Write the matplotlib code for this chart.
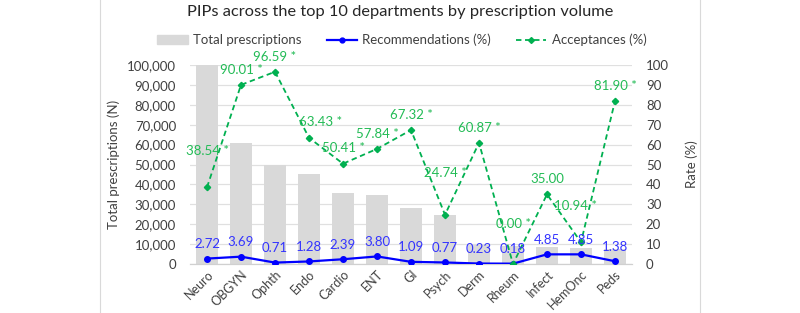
import matplotlib
matplotlib.use("Agg")
import matplotlib.pyplot as plt
from matplotlib.lines import Line2D
from matplotlib.ticker import FuncFormatter, MultipleLocator

departments = ["Neuro", "OBGYN", "Ophth", "Endo", "Cardio", "ENT", "GI",
               "Psych", "Derm", "Rheum", "Infect", "HemOnc", "Peds"]
total_prescriptions = [100000, 61000, 50000, 45000, 35500, 34500, 28000,
                       24500, 9300, 9000, 8600, 8100, 7400]
recommendations = [2.72, 3.69, 0.71, 1.28, 2.39, 3.80, 1.09,
                   0.77, 0.23, 0.18, 4.85, 4.85, 1.38]
acceptances = [38.54, 90.01, 96.59, 63.43, 50.41, 57.84, 67.32,
               24.74, 60.87, 0.00, 35.00, 10.94, 81.90]
significant = [True, True, True, True, True, True, True,
               True, True, True, False, True, True]

plt.rcParams['font.family'] = ['Lato', 'DejaVu Sans']

BAR = "#d9d9d9"
BLUE = "#0000ff"
BLUE_TXT = "#3333ff"
GREEN = "#00b050"
GREEN_TXT = "#22bb55"
GRID = "#e0e0e0"
TXT = "#404040"
FS = 9.5

fig = plt.figure(figsize=(8, 3.13), dpi=100)
ax = fig.add_axes([190 / 800, 1 - 264 / 313, 442 / 800, 199 / 313])
ax2 = ax.twinx()

x = list(range(len(departments)))
ax.bar(x, total_prescriptions, width=0.65, color=BAR, zorder=2)
ax.set_xlim(-0.5, len(departments) - 0.5)
ax.set_ylim(0, 100000)
ax.yaxis.set_major_locator(MultipleLocator(10000))
ax.yaxis.set_major_formatter(FuncFormatter(lambda v, p: f"{int(v):,}"))
ax.grid(axis="y", color=GRID, linewidth=0.9, zorder=0)
ax.set_axisbelow(True)

ax2.set_ylim(0, 100)
ax2.yaxis.set_major_locator(MultipleLocator(10))
ax2.plot(x, recommendations, color=BLUE, linewidth=1.6, marker="o",
         markersize=4, zorder=4)
ax2.plot(x, acceptances, color=GREEN, linewidth=1.3, linestyle="--",
         dashes=(3, 2), marker="D", markersize=3.2, zorder=5)

# label offsets in points (dx, dy) where the default does not fit
acc_offsets = {0: (0, 26), 3: (8, 11), 7: (0, 30), 9: (0, 29), 11: (-4, 26)}
for i, v in enumerate(acceptances):
    dx, dy = acc_offsets.get(i, (0, 11))
    txt = f"{v:.2f}" + (" *" if significant[i] else "")
    ax2.annotate(txt, (i, v), xytext=(dx, dy), textcoords="offset points",
                 ha="center", va="center", color=GREEN_TXT, fontsize=FS,
                 zorder=6)
for i, v in enumerate(recommendations):
    ax2.annotate(f"{v:.2f}", (i, v), xytext=(0, 10.5), textcoords="offset points",
                 ha="center", va="center", color=BLUE_TXT, fontsize=FS,
                 zorder=6)

for a in (ax, ax2):
    for s in ("top", "left", "right"):
        a.spines[s].set_visible(False)
    a.spines["bottom"].set_color("#d0d0d0")
    a.tick_params(length=0, labelsize=FS, colors=TXT)

ax.set_xticks(x)
ax.set_xticklabels(departments, rotation=45, ha="right", rotation_mode="anchor")
ax.tick_params(axis="x", pad=3, labelsize=9)
ax.tick_params(axis="y", pad=10)
ax2.tick_params(axis="y", pad=10)

ax.set_ylabel("Total prescriptions (N)", fontsize=FS, color=TXT, labelpad=5)
ax2.set_ylabel("Rate (%)", fontsize=FS, color=TXT, labelpad=12)

fig.suptitle("PIPs across the top 10 departments by prescription volume",
             y=0.985, fontsize=11.8, color="#262626")

handles = [
    plt.Rectangle((0, 0), 1, 1, color=BAR),
    Line2D([], [], color=BLUE, linewidth=1.6, marker="o", markersize=3.5),
    Line2D([], [], color=GREEN, linewidth=1.3, linestyle="--", dashes=(3, 2),
           marker="D", markersize=3),
]
fig.legend(handles, ["Total prescriptions", "Recommendations (%)", "Acceptances (%)"],
           loc="center", bbox_to_anchor=(402 / 800, 1 - 40 / 313), ncol=3, frameon=False,
           fontsize=FS, handlelength=2.3, columnspacing=1.9, handletextpad=0.4,
           labelcolor=TXT)

for xp in (100.5 / 800, 699.5 / 800):
    fig.add_artist(Line2D([xp, xp], [0, 1], color="#d9d9d9", linewidth=0.8,
                          transform=fig.transFigure))

fig.savefig("out.png", dpi=100, facecolor="white")
